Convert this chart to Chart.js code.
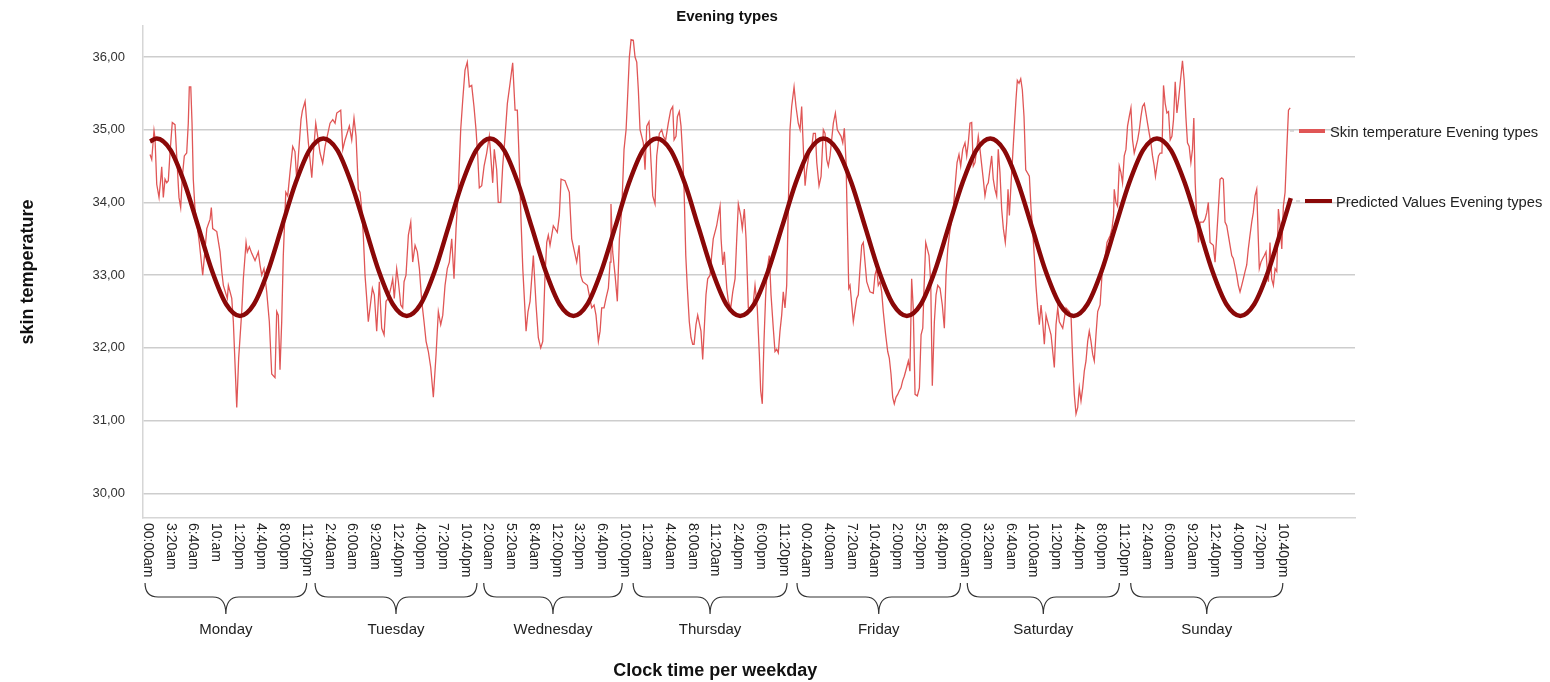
<!DOCTYPE html>
<html>
<head>
<meta charset="utf-8">
<title>Evening types</title>
<script src="https://cdn.jsdelivr.net/npm/chart.js@4.4.1/dist/chart.umd.min.js"></script>
<style>
  html, body { margin: 0; padding: 0; background: #fff; }
</style>
</head>
<body>
<canvas id="chart" width="1550" height="682"></canvas>
<script>
const FONT = '"Liberation Sans", Arial, sans-serif'

// time axis: one label every 200 minutes, first label sits one sample before the data
const tickStart = -20
const tickStep = 200
const tickLabels = [
  '00:00am', '3:20am', '6:40am', '10:am', '1:20pm', '4:40pm', '8:00pm', '11:20pm',
  '2:40am', '6:00am', '9:20am', '12:40pm', '4:00pm', '7:20pm', '10:40pm',
  '2:00am', '5:20am', '8:40am', '12:00pm', '3:20pm', '6:40pm', '10:00pm',
  '1:20am', '4:40am', '8:00am', '11:20am', '2:40pm', '6:00pm', '11:20pm',
  '00:40am', '4:00am', '7:20am', '10:40am', '2:00pm', '5:20pm', '8:40pm',
  '00:00am', '3:20am', '6:40am', '10:00am', '1:20pm', '4:40pm', '8:00pm', '11:20pm',
  '2:40am', '6:00am', '9:20am', '12:40pm', '4:00pm', '7:20pm', '10:40pm'
]
const dayNames = ['Monday', 'Tuesday', 'Wednesday', 'Thursday', 'Friday', 'Saturday', 'Sunday']
// hand drawn braces under the labels, in tick-label units
const braceFrom = [-0.12, 7.37, 14.8, 21.38, 28.6, 36.1, 43.3]
const braceTo = [7.0, 14.5, 20.9, 28.16, 35.8, 42.8, 50.0]

// minutes since Monday 00:00
const skinMinutes = [
  0, 15, 35, 44, 59, 79, 94, 103, 117, 132, 147, 161, 176, 196, 220, 235, 255, 270, 285, 302,
  323, 337, 346, 359, 370, 381, 396, 434, 464, 485, 500, 529, 540, 552, 588, 617, 632, 646, 681, 690,
  720, 734, 764, 781, 808, 822, 846, 857, 875, 896, 925, 954, 969, 984, 1004, 1028, 1051, 1072, 1101, 1116,
  1130, 1145, 1160, 1174, 1196, 1213, 1233, 1257, 1277, 1292, 1307, 1330, 1342, 1366, 1395, 1425, 1439, 1460, 1477, 1498,
  1521, 1542, 1586, 1610, 1630, 1645, 1680, 1698, 1718, 1756, 1777, 1797, 1815, 1835, 1850, 1865, 1879, 1894, 1909, 1923,
  1938, 1959, 1976, 1997, 2020, 2041, 2062, 2079, 2099, 2121, 2138, 2152, 2173, 2188, 2209, 2226, 2238, 2255, 2276, 2297,
  2314, 2335, 2355, 2373, 2394, 2414, 2432, 2452, 2473, 2496, 2520, 2540, 2561, 2579, 2599, 2619, 2637, 2658, 2678, 2696,
  2716, 2737, 2755, 2775, 2795, 2813, 2834, 2854, 2872, 2887, 2901, 2922, 2943, 2966, 2989, 3019, 3033, 3054, 3068, 3090,
  3107, 3128, 3148, 3172, 3195, 3216, 3236, 3253, 3269, 3284, 3313, 3330, 3348, 3377, 3401, 3421, 3442, 3460, 3480, 3495,
  3509, 3524, 3553, 3588, 3606, 3621, 3656, 3694, 3715, 3759, 3780, 3794, 3812, 3853, 3891, 3912, 3929, 3950, 3965, 3979,
  4000, 4017, 4038, 4053, 4061, 4076, 4097, 4117, 4135, 4156, 4176, 4194, 4205, 4223, 4238, 4258, 4273, 4288, 4302, 4317,
  4346, 4361, 4376, 4396, 4414, 4429, 4449, 4464, 4487, 4508, 4523, 4543, 4566, 4587, 4605, 4617, 4634, 4646, 4663, 4678,
  4693, 4705, 4720, 4734, 4751, 4766, 4781, 4793, 4810, 4825, 4854, 4869, 4883, 4898, 4913, 4934, 4948, 4962, 4992, 5007,
  5022, 5031, 5046, 5060, 5081, 5095, 5116, 5134, 5154, 5169, 5183, 5204, 5218, 5236, 5251, 5271, 5310, 5330, 5350, 5368,
  5380, 5394, 5409, 5424, 5438, 5456, 5471, 5491, 5506, 5521, 5535, 5550, 5565, 5579, 5594, 5609, 5624, 5638, 5653, 5674,
  5691, 5711, 5727, 5741, 5756, 5771, 5785, 5808, 5830, 5844, 5862, 5874, 5894, 5912, 5932, 5947, 5962, 5976, 5991, 6020,
  6038, 6055, 6088, 6103, 6117, 6132, 6143, 6156, 6167, 6196, 6226, 6240, 6255, 6270, 6284, 6314, 6343, 6372, 6387, 6402,
  6416, 6431, 6446, 6460, 6481, 6499, 6513, 6528, 6543, 6557, 6572, 6587, 6601, 6616, 6631, 6645, 6666, 6681, 6695, 6710,
  6724, 6740, 6760, 6778, 6793, 6808, 6819, 6834, 6863, 6878, 6892, 6910, 6925, 6940, 6960, 6980, 6998, 7013, 7028, 7042,
  7063, 7077, 7095, 7110, 7127, 7142, 7160, 7180, 7195, 7209, 7224, 7239, 7253, 7268, 7283, 7297, 7312, 7341, 7356, 7371,
  7385, 7415, 7429, 7444, 7459, 7473, 7488, 7503, 7518, 7535, 7548, 7559, 7571, 7586, 7600, 7615, 7629, 7641, 7656, 7671,
  7685, 7700, 7715, 7747, 7762, 7776, 7790, 7805, 7820, 7835, 7850, 7864, 7879, 7894, 7908, 7938, 7967, 7982, 7997, 8011,
  8041, 8070, 8099, 8114, 8129, 8143, 8158, 8173, 8187, 8202, 8217, 8231, 8246, 8261, 8275, 8290, 8305, 8319, 8334, 8349,
  8370, 8387, 8416, 8431, 8460, 8475, 8489, 8495, 8510, 8524, 8539, 8554, 8568, 8583, 8598, 8612, 8627, 8642, 8656, 8671,
  8686, 8701, 8716, 8730, 8744, 8760, 8774, 8788, 8803, 8818, 8832, 8847, 8858, 8871, 8885, 8900, 8915, 8929, 8944, 8959,
  8973, 8988, 9003, 9017, 9032, 9047, 9061, 9076, 9096, 9111, 9126, 9140, 9155, 9170, 9184, 9196, 9208, 9223, 9237, 9251,
  9280, 9295, 9310, 9324, 9339, 9368, 9383, 9398, 9412, 9427, 9442, 9456, 9471, 9486, 9500, 9515, 9530, 9544, 9574, 9588,
  9603, 9618, 9632, 9647, 9662, 9676, 9691, 9706, 9720, 9735, 9750, 9764, 9773, 9788, 9803, 9817, 9832, 9844, 9853, 9867,
  9882, 9897, 9912, 9927, 9941, 9956, 9971, 9985, 10000, 10015, 10030, 10045
]
const skinTemp = [
  34.66, 34.59, 34.99, 34.88, 34.25, 34.07, 34.32, 34.49, 34.07, 34.32, 34.27, 34.30, 34.68, 35.10, 35.07, 34.64, 34.07, 33.93, 34.36, 34.64,
  34.68, 35.09, 35.59, 35.59, 35.09, 34.32, 33.91, 33.45, 33.00, 33.36, 33.64, 33.77, 33.93, 33.64, 33.60, 33.32, 33.05, 32.86, 32.68, 32.86,
  32.68, 32.36, 31.18, 31.86, 32.50, 32.95, 33.45, 33.32, 33.39, 33.30, 33.20, 33.32, 33.14, 33.00, 33.09, 32.77, 32.36, 31.64, 31.59, 32.50,
  32.45, 31.70, 32.36, 33.27, 34.14, 34.09, 34.41, 34.77, 34.70, 34.32, 34.64, 35.14, 35.26, 35.39, 34.82, 34.34, 34.68, 35.09, 34.91, 34.68,
  34.54, 34.77, 35.09, 35.14, 35.09, 35.23, 35.27, 34.73, 34.86, 35.05, 34.86, 35.16, 34.91, 34.18, 34.14, 33.91, 33.55, 33.00, 32.68, 32.36,
  32.55, 32.82, 32.73, 32.23, 32.91, 32.27, 32.18, 32.64, 32.68, 32.82, 32.95, 32.68, 33.09, 32.91, 32.59, 32.55, 32.91, 33.00, 33.55, 33.73,
  33.18, 33.41, 33.32, 33.09, 32.64, 32.36, 32.09, 31.95, 31.73, 31.32, 31.91, 32.50, 32.32, 32.45, 32.86, 33.09, 33.18, 33.50, 32.95, 33.64,
  34.18, 35.00, 35.41, 35.82, 35.93, 35.59, 35.61, 35.32, 35.00, 34.64, 34.20, 34.23, 34.50, 34.68, 34.91, 34.27, 34.73, 34.45, 34.00, 34.00,
  34.50, 34.91, 35.36, 35.64, 35.92, 35.27, 35.27, 34.55, 33.73, 33.09, 32.23, 32.50, 32.64, 33.27, 32.59, 32.14, 32.00, 32.09, 33.00, 33.45,
  33.55, 33.41, 33.68, 33.59, 33.82, 34.32, 34.30, 34.14, 33.50, 33.18, 33.41, 33.00, 32.91, 32.86, 32.55, 32.59, 32.45, 32.09, 32.23, 32.55,
  32.55, 32.68, 32.82, 33.18, 33.98, 33.32, 33.00, 32.64, 33.50, 33.91, 34.73, 35.00, 35.36, 36.00, 36.24, 36.23, 36.00, 35.93, 35.55, 35.00,
  34.82, 34.45, 35.05, 35.11, 34.55, 34.09, 33.98, 34.64, 34.95, 35.00, 34.91, 34.86, 35.09, 35.27, 35.32, 34.86, 34.91, 35.18, 35.25, 35.05,
  34.64, 34.18, 33.27, 32.82, 32.36, 32.14, 32.05, 32.05, 32.32, 32.45, 32.23, 31.84, 32.27, 32.73, 32.95, 33.00, 33.27, 33.50, 33.68, 33.82,
  33.95, 33.50, 33.14, 33.32, 32.82, 32.64, 32.55, 32.77, 32.95, 33.50, 33.98, 33.82, 33.64, 33.91, 33.50, 32.55, 32.55, 32.86, 32.55, 31.91,
  31.41, 31.23, 32.09, 32.73, 33.09, 33.27, 32.73, 32.27, 31.95, 31.98, 31.93, 32.23, 32.45, 32.77, 32.55, 32.86, 34.00, 35.00, 35.32, 35.59,
  35.32, 35.09, 35.00, 35.32, 34.73, 34.23, 34.45, 34.68, 34.77, 34.95, 34.95, 34.55, 34.23, 34.36, 35.00, 34.95, 34.59, 34.50, 34.64, 35.09,
  35.23, 35.00, 34.91, 34.82, 35.02, 34.55, 33.73, 32.82, 32.86, 32.36, 32.68, 32.73, 33.09, 33.41, 33.45, 32.91, 32.77, 32.75, 33.00, 33.09,
  32.86, 32.91, 32.77, 32.50, 32.18, 31.95, 31.86, 31.64, 31.32, 31.23, 31.32, 31.36, 31.41, 31.45, 31.55, 31.61, 31.73, 31.82, 31.68, 32.95,
  32.55, 31.36, 31.34, 31.45, 32.18, 32.27, 32.82, 33.45, 33.27, 32.91, 31.48, 32.36, 32.73, 32.86, 32.82, 32.59, 32.27, 33.00, 33.36, 33.55,
  33.77, 33.91, 34.27, 34.55, 34.66, 34.50, 34.73, 34.82, 34.64, 34.82, 35.09, 35.10, 34.50, 34.55, 34.73, 34.91, 34.73, 34.32, 34.09, 34.23,
  34.27, 34.64, 34.32, 34.18, 34.09, 34.73, 34.41, 33.91, 33.64, 33.45, 33.73, 34.18, 33.82, 34.27, 34.64, 35.05, 35.41, 35.68, 35.64, 35.70,
  35.55, 35.18, 34.45, 34.36, 33.91, 33.64, 33.27, 32.86, 32.55, 32.32, 32.59, 32.36, 32.05, 32.45, 32.36, 32.18, 31.73, 32.32, 32.55, 32.36,
  32.27, 32.55, 32.50, 32.45, 31.82, 31.36, 31.09, 31.18, 31.45, 31.27, 31.45, 31.68, 31.82, 32.09, 32.23, 32.09, 31.91, 31.82, 32.18, 32.50,
  32.59, 33.00, 33.27, 33.45, 33.55, 33.64, 33.82, 34.18, 34.00, 33.95, 34.50, 34.41, 34.27, 34.64, 34.73, 35.05, 35.18, 35.30, 34.86, 34.68,
  34.77, 34.86, 35.00, 35.18, 35.32, 35.36, 35.23, 35.09, 34.95, 34.82, 34.64, 34.50, 34.36, 34.50, 34.64, 34.68, 34.68, 35.61, 35.36, 35.23,
  35.25, 34.86, 34.91, 35.14, 35.66, 35.23, 35.41, 35.64, 35.95, 35.68, 35.18, 34.82, 34.77, 34.55, 34.73, 35.16, 34.27, 33.73, 33.45, 33.73,
  33.73, 33.77, 33.86, 34.00, 33.45, 33.41, 33.18, 33.55, 33.91, 34.32, 34.34, 34.32, 33.73, 33.68, 33.55, 33.41, 33.27, 33.23, 33.00, 32.86,
  32.77, 32.86, 32.95, 33.05, 33.14, 33.36, 33.55, 33.73, 33.86, 34.09, 34.18, 33.50, 33.09, 33.18, 33.23, 33.27, 33.32, 33.05, 32.91, 33.45,
  32.95, 32.86, 33.09, 33.05, 33.91, 33.68, 33.36, 33.95, 34.14, 34.73, 35.27, 35.30
]

// predicted (fitted) curve, read at its crests, troughs and the points in between
const predMinutes = [
  0, 59, 181, 303, 426, 548, 671, 793, 915, 1038, 1160, 1283, 1405,
  1527, 1650, 1772, 1895, 2017, 2139, 2262, 2384, 2507, 2629, 2751, 2874,
  2996, 3119, 3241, 3363, 3486, 3608, 3731, 3853, 3975, 4098, 4220, 4343,
  4465, 4587, 4710, 4832, 4955, 5077, 5199, 5322, 5444, 5567, 5689, 5811,
  5934, 6056, 6179, 6301, 6423, 6546, 6668, 6791, 6913, 7035, 7158, 7280,
  7403, 7525, 7647, 7770, 7892, 8015, 8137, 8259, 8382, 8504, 8627, 8749,
  8871, 8994, 9116, 9239, 9361, 9483, 9606, 9728, 9851, 9973, 10050
]
const predTemp = [
  34.84, 34.88, 34.72, 34.27, 33.66, 33.05, 32.60, 32.44, 32.60, 33.05, 33.66, 34.27, 34.72,
  34.88, 34.72, 34.27, 33.66, 33.05, 32.60, 32.44, 32.60, 33.05, 33.66, 34.27, 34.72,
  34.88, 34.72, 34.27, 33.66, 33.05, 32.60, 32.44, 32.60, 33.05, 33.66, 34.27, 34.72,
  34.88, 34.72, 34.27, 33.66, 33.05, 32.60, 32.44, 32.60, 33.05, 33.66, 34.27, 34.72,
  34.88, 34.72, 34.27, 33.66, 33.05, 32.60, 32.44, 32.60, 33.05, 33.66, 34.27, 34.72,
  34.88, 34.72, 34.27, 33.66, 33.05, 32.60, 32.44, 32.60, 33.05, 33.66, 34.27, 34.72,
  34.88, 34.72, 34.27, 33.66, 33.05, 32.60, 32.44, 32.60, 33.05, 33.66, 34.06
]

const skinColor = '#e05656'
const predColor = '#8a0808'

function brace(ctx, x0, x1, top, mid, tip) {
  const xc = (x0 + x1) / 2
  const r = 13
  ctx.beginPath()
  ctx.moveTo(x0, top)
  ctx.quadraticCurveTo(x0, mid, x0 + r, mid)
  ctx.lineTo(xc - r, mid)
  ctx.quadraticCurveTo(xc, mid, xc, tip)
  ctx.quadraticCurveTo(xc, mid, xc + r, mid)
  ctx.lineTo(x1 - r, mid)
  ctx.quadraticCurveTo(x1, mid, x1, top)
  ctx.stroke()
}

const decor = {
  id: 'decor',
  afterDraw(chart) {
    const ctx = chart.ctx
    const xs = chart.scales.x
    const tickX = i => xs.getPixelForValue(tickStart + tickStep * i)
    ctx.save()

    ctx.fillStyle = '#111'
    ctx.font = 'bold 15px ' + FONT
    ctx.textAlign = 'center'
    ctx.textBaseline = 'middle'
    ctx.fillText('Evening types', 727, 17)

    // vertical tick labels, reading downwards
    ctx.font = '14px ' + FONT
    ctx.fillStyle = '#222'
    tickLabels.forEach((t, i) => {
      ctx.save()
      ctx.translate(tickX(i), 523)
      ctx.rotate(Math.PI / 2)
      ctx.textAlign = 'left'
      ctx.textBaseline = 'middle'
      ctx.fillText(t, 0, 0)
      ctx.restore()
    })

    // weekday braces
    ctx.strokeStyle = '#333'
    ctx.lineWidth = 1.2
    ctx.font = '15px ' + FONT
    ctx.textAlign = 'center'
    dayNames.forEach((d, k) => {
      const x0 = tickX(braceFrom[k])
      const x1 = tickX(braceTo[k])
      brace(ctx, x0, x1, 583, 597, 614)
      ctx.fillText(d, (x0 + x1) / 2, 630)
    })

    ctx.fillStyle = '#111'
    ctx.font = 'bold 18px ' + FONT
    ctx.fillText('Clock time per weekday', (tickX(0) + tickX(tickLabels.length - 1)) / 2, 671)

    // legend
    ctx.font = '14.7px ' + FONT
    ctx.textAlign = 'left'
    ctx.fillStyle = '#222'
    ctx.lineWidth = 1
    ctx.strokeStyle = '#bbb'
    ctx.beginPath()
    ctx.moveTo(1290, 131); ctx.lineTo(1294, 131)
    ctx.moveTo(1296, 201); ctx.lineTo(1300, 201)
    ctx.stroke()
    ctx.lineWidth = 4
    ctx.strokeStyle = skinColor
    ctx.beginPath(); ctx.moveTo(1299, 131); ctx.lineTo(1325, 131); ctx.stroke()
    ctx.fillText(chart.data.datasets[0].label, 1330, 133)
    ctx.strokeStyle = predColor
    ctx.beginPath(); ctx.moveTo(1305, 201); ctx.lineTo(1332, 201); ctx.stroke()
    ctx.fillText(chart.data.datasets[1].label, 1336, 203)
    ctx.restore()
  }
}

new Chart(document.getElementById('chart'), {
  type: 'line',
  data: {
    datasets: [
      {
        label: 'Skin temperature Evening types',
        data: skinMinutes.map((m, i) => ({ x: m, y: skinTemp[i] })),
        borderColor: skinColor,
        borderWidth: 1.3,
        pointRadius: 0,
        tension: 0,
        order: 2
      },
      {
        label: 'Predicted Values Evening types',
        data: predMinutes.map((m, i) => ({ x: m, y: predTemp[i] })),
        borderColor: predColor,
        borderWidth: 4.5,
        pointRadius: 0,
        cubicInterpolationMode: 'monotone',
        order: 1
      }
    ]
  },
  options: {
    responsive: false,
    animation: false,
    devicePixelRatio: 1,
    layout: { padding: { top: 22, right: 195, left: 0, bottom: 0 } },
    plugins: {
      legend: { display: false },
      tooltip: { enabled: false },
      title: { display: false }
    },
    scales: {
      x: {
        type: 'linear',
        min: -62,
        max: 10616,
        grid: { display: false },
        border: { display: true, color: '#d6d6d6', width: 1.5 },
        ticks: { display: false },
        afterFit(s) { s.height = 164 }
      },
      y: {
        min: 29.66,
        max: 36.43,
        afterFit(s) { s.width = 143 },
        grid: { color: '#cdcdcd', lineWidth: 1.5, drawTicks: false },
        border: { display: true, color: '#d6d6d6', width: 1.5 },
        ticks: {
          stepSize: 1,
          includeBounds: false,
          padding: 18,
          color: '#333',
          font: { family: FONT, size: 13 },
          callback: v => v.toFixed(2).replace('.', ',')
        },
        title: {
          display: true,
          text: 'skin temperature',
          color: '#111',
          font: { family: FONT, size: 18, weight: 'bold' },
          padding: { top: 17, bottom: 0 }
        }
      }
    }
  },
  plugins: [decor]
})
</script>
</body>
</html>
